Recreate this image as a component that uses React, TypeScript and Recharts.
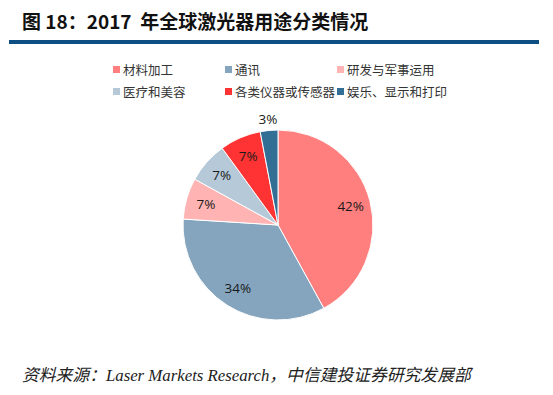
import React from "react";
import { PieChart, Pie, Cell } from "recharts";

const categories = ["材料加工", "通讯", "研发与军事运用", "医疗和美容", "各类仪器或传感器", "娱乐、显示和打印"];
const shares = [42, 34, 7, 7, 7, 3];
const colors = ["#ff7f7f", "#84a5bd", "#ffb3b3", "#b5c9d8", "#ff3333", "#336e94"];

const data = categories.map((name, i) => ({ name, value: shares[i] }));

const RAD = Math.PI / 180;

const renderLabel = (props: any) => {
  const { cx, cy, midAngle, outerRadius, value } = props;
  const r = value < 5 ? outerRadius + 11 : outerRadius * 0.79;
  const x = cx + r * Math.cos(-midAngle * RAD);
  const y = cy + r * Math.sin(-midAngle * RAD);
  return (
    <text
      x={x}
      y={y}
      fill="#1a1a1a"
      fontSize={13.5}
      fontFamily="'Open Sans', 'Liberation Sans', sans-serif"
      textAnchor="middle"
      dominantBaseline="central"
    >
      {`${value}%`}
    </text>
  );
};

export default function App() {
  return (
    <div
      style={{
        position: "absolute",
        left: 0,
        top: 0,
        width: 553,
        height: 395,
        background: "#fff",
        fontFamily: "'Noto Sans CJK SC', sans-serif",
      }}
    >
      <div
        style={{
          position: "absolute",
          left: 22,
          top: 8,
          fontSize: 19,
          fontWeight: 700,
          color: "#111",
          lineHeight: "26px",
          whiteSpace: "nowrap",
        }}
      >
        图 18：2017&nbsp; 年全球激光器用途分类情况
      </div>
      <div
        style={{
          position: "absolute",
          left: 9,
          top: 40,
          width: 530,
          height: 4,
          background: "#0d4f82",
        }}
      />

      {categories.map((name, i) => (
        <div
          key={name}
          style={{
            position: "absolute",
            left: 113 + (i % 3) * 112,
            top: i < 3 ? 60 : 82,
            height: 18,
            display: "flex",
            alignItems: "center",
            fontSize: 12.5,
            color: "#333",
            whiteSpace: "nowrap",
          }}
        >
          <span
            style={{
              display: "inline-block",
              width: 7,
              height: 7,
              background: colors[i],
              marginRight: 3,
            }}
          />
          {name}
        </div>
      ))}

      <div style={{ position: "absolute", left: 0, top: 100 }}>
        <PieChart width={553} height={250}>
          <Pie
            data={data}
            dataKey="value"
            nameKey="name"
            cx={273}
            cy={120}
            outerRadius={95}
            startAngle={90}
            endAngle={-270}
            stroke="#fff"
            strokeWidth={1}
            label={renderLabel}
            labelLine={false}
            isAnimationActive={false}
          >
            {data.map((d, i) => (
              <Cell key={d.name} fill={colors[i]} />
            ))}
          </Pie>
        </PieChart>
      </div>

      <div
        style={{
          position: "absolute",
          left: 22,
          top: 365,
          fontSize: 16.8,
          fontStyle: "italic",
          fontFamily: "'Liberation Serif', 'Noto Sans CJK SC', serif",
          color: "#222",
          whiteSpace: "nowrap",
          lineHeight: "22px",
        }}
      >
        资料来源：Laser Markets Research，中信建投证券研究发展部
      </div>
    </div>
  );
}
